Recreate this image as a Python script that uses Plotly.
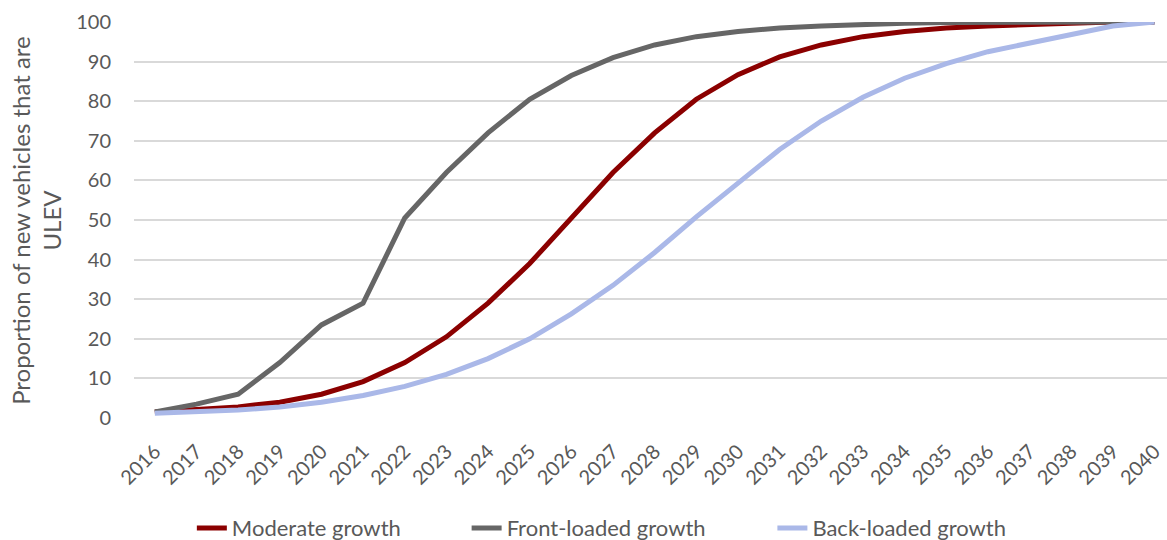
import plotly.graph_objects as go

years = list(range(2016, 2041))

moderate = [1.5, 2.0, 2.8, 4.0, 6.0, 9.2, 14.0, 20.5, 29.0, 39.0, 50.5, 62.0, 72.0,
            80.5, 86.7, 91.2, 94.2, 96.3, 97.6, 98.5, 99.0, 99.5, 99.7, 100.0, 100.0]
front_loaded = [1.5, 3.5, 6.0, 14.0, 23.5, 29.0, 50.5, 62.0, 72.0, 80.5, 86.5, 91.0, 94.2,
                96.3, 97.6, 98.5, 99.0, 99.5, 99.7, 99.9, 100.0, 100.0, 100.0, 100.0, 100.0]
back_loaded = [1.2, 1.5, 2.0, 2.8, 4.0, 5.7, 8.0, 11.0, 15.0, 20.0, 26.3, 33.5, 41.8,
               50.8, 59.5, 67.8, 75.0, 81.0, 85.8, 89.5, 92.5, 94.7, 97.0, 99.0, 100.0]

series = [
    ("Moderate growth", moderate, "#8b0000", "legend"),
    ("Front-loaded growth", front_loaded, "#666666", "legend2"),
    ("Back-loaded growth", back_loaded, "#aab8e8", "legend3"),
]

FONT = "Lato, Open Sans, sans-serif"
TEXT = "#595959"

fig = go.Figure()
for name, vals, color, leg in series:
    fig.add_trace(go.Scatter(
        x=years, y=vals, name=name, mode="lines", legend=leg,
        line=dict(color=color, width=5),
    ))

# one legend box per series so the entries sit at their own positions
legend_style = dict(orientation="h", xanchor="left", y=-0.225, yanchor="top",
                    font=dict(size=22, color=TEXT), bgcolor="rgba(0,0,0,0)")
legend_x = [0.056, 0.322, 0.618]

# y-axis title as a rotated annotation for tighter placement
fig.add_annotation(
    text="Proportion of new vehicles that are<br>ULEV",
    xref="paper", yref="paper", x=-0.095, y=0.5,
    xanchor="center", yanchor="middle", textangle=-90, showarrow=False,
    font=dict(size=24, color=TEXT, family=FONT),
)

fig.update_layout(
    width=1167, height=540,
    margin=dict(l=134, r=0, t=22, b=122, autoexpand=False),
    paper_bgcolor="white", plot_bgcolor="white",
    font=dict(family=FONT, size=20, color=TEXT),
    showlegend=True,
    legend=dict(x=legend_x[0], **legend_style),
    legend2=dict(x=legend_x[1], **legend_style),
    legend3=dict(x=legend_x[2], **legend_style),
    xaxis=dict(
        range=[2015.5, 2040.3], tickmode="array", tickvals=years,
        ticktext=[str(y) for y in years], tickangle=-45,
        showgrid=False, zeroline=False, showline=False, ticks="",
        ticklabelstandoff=17,
        tickfont=dict(size=20, color=TEXT), automargin=False,
    ),
    yaxis=dict(
        range=[0, 100], tick0=0, dtick=10,
        showgrid=True, gridcolor="#d9d9d9", gridwidth=1.5,
        zeroline=False, showline=False, ticks="",
        ticklabelstandoff=22, automargin=False,
        tickfont=dict(size=20, color=TEXT),
    ),
)

fig.write_html("out.html")
